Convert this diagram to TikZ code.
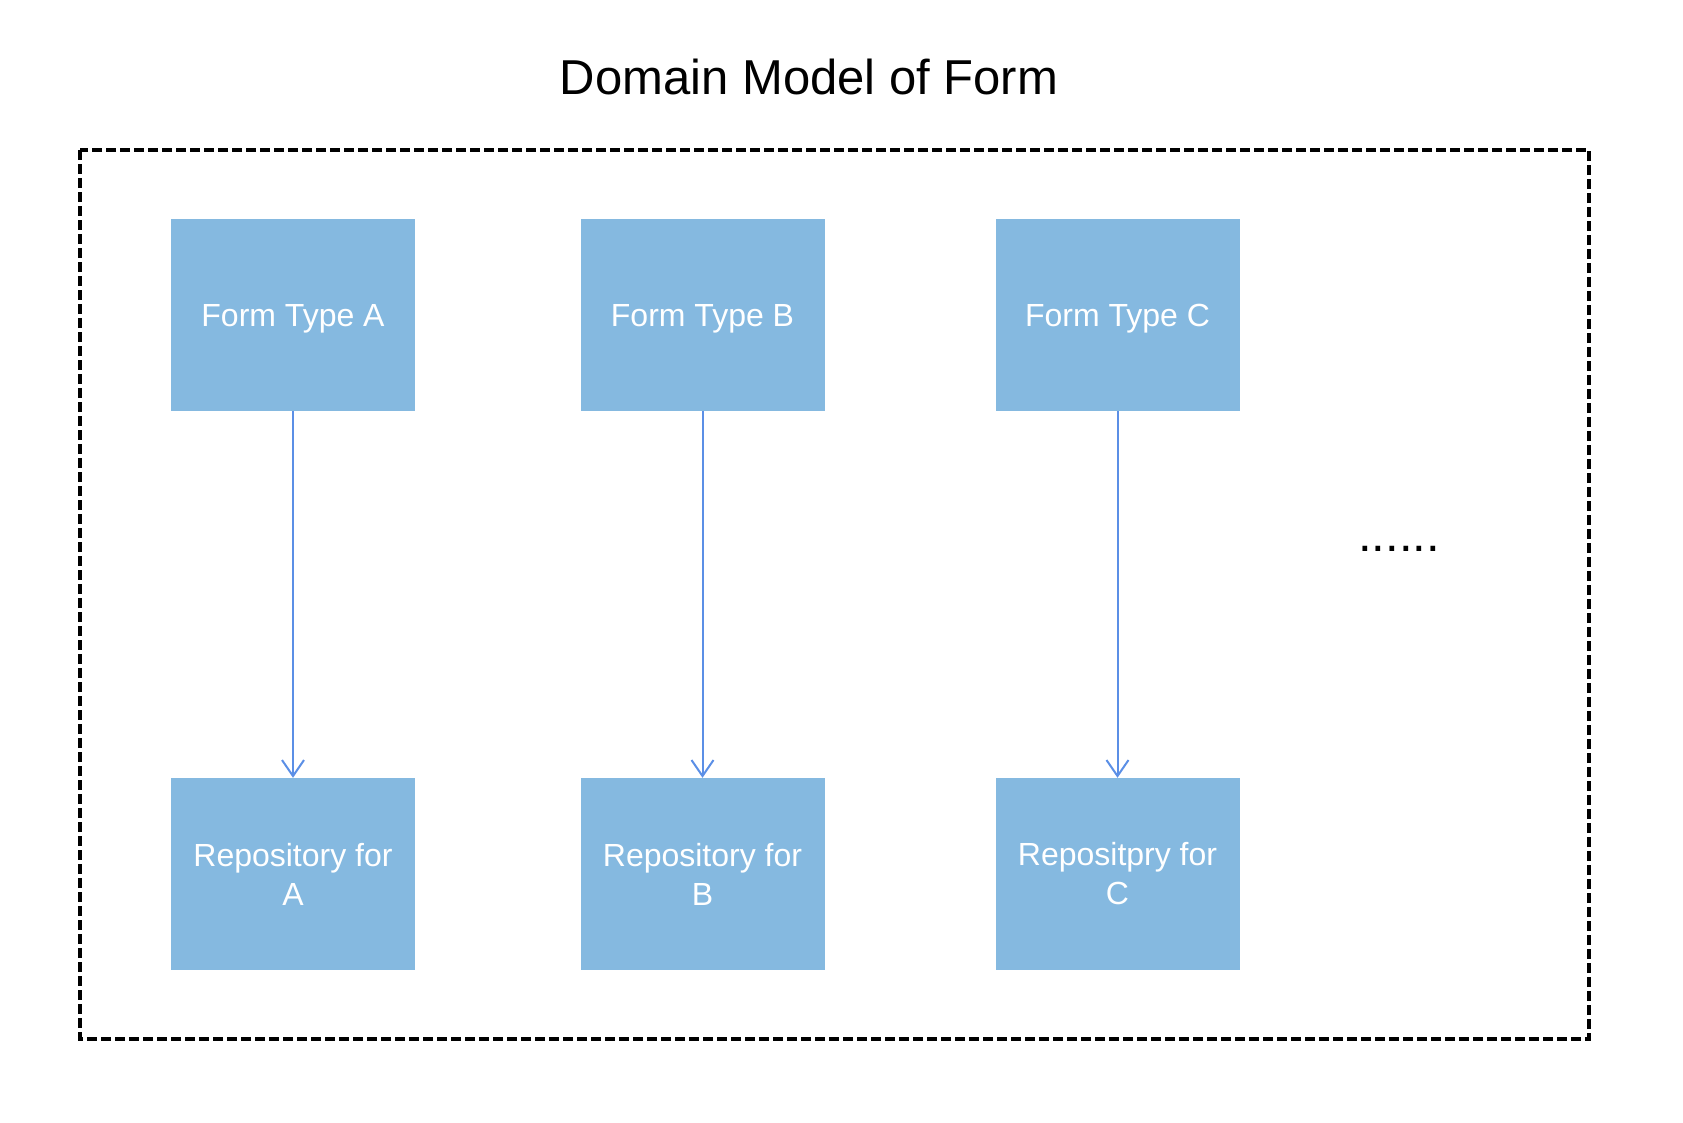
\documentclass[tikz,border=0pt]{standalone}
\usepackage{fontspec}
\setmainfont{Liberation Sans}
\usetikzlibrary{arrows.meta}
\definecolor{boxfill}{HTML}{85B9E0}
\definecolor{arrowc}{HTML}{5B8FE6}
\begin{document}
\begin{tikzpicture}[x=1pt,y=-1pt,
  formbox/.style={draw=none,fill=boxfill,minimum width=244pt,minimum height=192pt,inner sep=0pt,
    text=white,align=center,font=\fontsize{32}{39}\selectfont},
  topbox/.style={formbox,text height=29pt,text depth=6.6pt},
  link/.style={draw=arrowc,line width=2pt,-{Straight Barb[length=16pt,width=22pt,line width=2pt]}},
  frame/.style={draw=black,line width=3.2pt,dash pattern=on 10pt off 4pt}]
\useasboundingbox (0,0) rectangle (1683,1122);
\node[font=\fontsize{49}{58}\selectfont,anchor=base] (title) at (809,94) {Domain Model of Form};
\draw[frame] (80,150) rectangle (1589,1039);
\node[topbox] (fa) at (293,315) {Form Type A};
\node[topbox] (fb) at (702.5,315) {Form Type B};
\node[topbox] (fc) at (1117.5,315) {Form Type C};
\node[formbox] (ra) at (293,874) {Repository for\\A};
\node[formbox] (rb) at (702.5,874) {Repository for\\B};
\node[formbox] (rc) at (1117.5,874) {Repositpry for\\C};
\draw[link] (fa) -- (ra);
\draw[link] (fb) -- (rb);
\draw[link] (fc) -- (rc);
\node[font=\fontsize{49}{58}\selectfont,anchor=base west,inner sep=0pt] (dots) at (1358,551) {......};
\end{tikzpicture}
\end{document}
